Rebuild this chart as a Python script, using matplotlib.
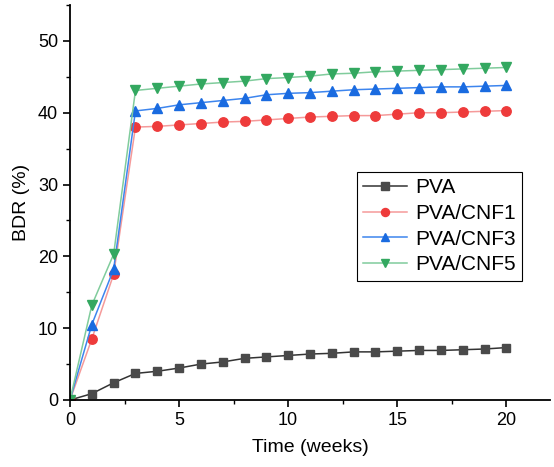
import matplotlib
matplotlib.use("Agg")
import matplotlib.pyplot as plt
from matplotlib.ticker import MultipleLocator

plt.rcParams['font.family'] = ['Liberation Sans', 'DejaVu Sans']

weeks = list(range(0, 21))
pva = [0, 0.88, 2.4, 3.7, 4.0, 4.45, 5.0, 5.3, 5.8, 6.0, 6.2, 6.4, 6.5, 6.7, 6.7, 6.8, 6.9, 6.9, 7.0, 7.1, 7.3]
cnf1 = [0, 8.5, 17.5, 38.0, 38.1, 38.3, 38.5, 38.7, 38.8, 39.0, 39.2, 39.4, 39.5, 39.6, 39.6, 39.8, 40.0, 40.0, 40.1, 40.2, 40.3]
cnf3 = [0, 10.5, 18.2, 40.25, 40.6, 41.1, 41.4, 41.7, 42.0, 42.5, 42.7, 42.8, 43.0, 43.2, 43.3, 43.4, 43.5, 43.6, 43.6, 43.7, 43.8]
cnf5 = [0, 13.2, 20.3, 43.1, 43.4, 43.7, 44.0, 44.2, 44.4, 44.75, 44.9, 45.1, 45.4, 45.5, 45.7, 45.8, 45.9, 46.0, 46.1, 46.2, 46.3]
labels = ["PVA", "PVA/CNF1", "PVA/CNF3", "PVA/CNF5"]

fig = plt.figure(figsize=(5.54, 4.67), dpi=100)
ax = fig.add_axes([70/554, 1-400/467, 480/554, 395/467])

specs = [
    (pva, '#4a4a4a', '#333333', 's', 6),
    (cnf1, '#ee3b3b', '#f59a9a', 'o', 6.8),
    (cnf3, '#1a6be0', '#3d85ee', '^', 7.5),
    (cnf5, '#33a860', '#80cc9c', 'v', 7.5),
]
for (vals, mc, lc, mk, ms), lab in zip(specs, labels):
    ax.plot(weeks, vals, color=lc, lw=1.1, marker=mk, markersize=ms,
            markerfacecolor=mc, markeredgecolor=mc, label=lab)

ax.set_xlim(0, 22)
ax.set_ylim(0, 55)
ax.xaxis.set_major_locator(MultipleLocator(5))
ax.xaxis.set_minor_locator(MultipleLocator(2.5))
ax.yaxis.set_major_locator(MultipleLocator(10))
ax.yaxis.set_minor_locator(MultipleLocator(5))
for s in ['top', 'right']:
    ax.spines[s].set_visible(False)
for s in ['left', 'bottom']:
    ax.spines[s].set_linewidth(1.3)
ax.tick_params(which='major', direction='out', length=5, width=1.2, labelsize=13)
ax.tick_params(which='minor', direction='out', length=3, width=1.0)
ax.set_xlabel("Time (weeks)", fontsize=14, labelpad=7)
ax.set_ylabel("BDR (%)", fontsize=14, labelpad=6)

leg = ax.legend(loc='upper left', bbox_to_anchor=(287/480, (400-172)/395),
                fontsize=15, frameon=True, fancybox=False, framealpha=1,
                edgecolor='black', handlelength=2.1, handletextpad=0.4,
                labelspacing=0.32, borderpad=0.3, borderaxespad=0,
                markerscale=0.85)
leg.get_frame().set_linewidth(0.8)

fig.savefig("out.png", dpi=100)
